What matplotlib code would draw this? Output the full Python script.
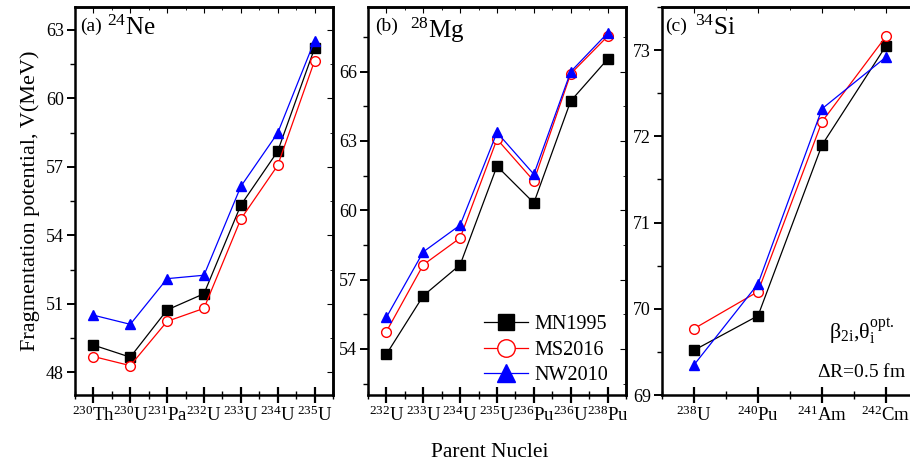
import matplotlib
matplotlib.use('Agg')
import matplotlib.pyplot as plt
from matplotlib.ticker import MultipleLocator

plt.rcParams['font.family'] = ['Liberation Serif', 'DejaVu Serif']
plt.rcParams['mathtext.fontset'] = 'custom'
plt.rcParams['mathtext.rm'] = 'Liberation Serif'
plt.rcParams['mathtext.it'] = 'Liberation Serif:italic'
plt.rcParams['mathtext.bf'] = 'Liberation Serif:bold'

# panel (a) 24Ne
ne_labels = [r'$^{230}$Th', r'$^{230}$U', r'$^{231}$Pa', r'$^{232}$U', r'$^{233}$U', r'$^{234}$U', r'$^{235}$U']
ne_mn1995 = [49.19, 48.66, 50.73, 51.44, 55.32, 57.68, 62.19]
ne_ms2016 = [48.69, 48.29, 50.23, 50.80, 54.71, 57.06, 61.64]
ne_nw2010 = [50.50, 50.10, 52.10, 52.25, 56.14, 58.48, 62.52]

# panel (b) 28Mg
mg_labels = [r'$^{232}$U', r'$^{233}$U', r'$^{234}$U', r'$^{235}$U', r'$^{236}$Pu', r'$^{236}$U', r'$^{238}$Pu']
mg_mn1995 = [53.77, 56.30, 57.64, 61.91, 60.32, 64.73, 66.54]
mg_ms2016 = [54.75, 57.64, 58.80, 63.08, 61.27, 65.91, 67.53]
mg_nw2010 = [55.37, 58.20, 59.36, 63.37, 61.56, 66.00, 67.67]

# panel (c) 34Si
si_labels = [r'$^{238}$U', r'$^{240}$Pu', r'$^{241}$Am', r'$^{242}$Cm']
si_mn1995 = [69.52, 69.92, 71.90, 73.05]
si_ms2016 = [69.77, 70.20, 72.17, 73.16]
si_nw2010 = [69.35, 70.29, 72.32, 72.92]

fig = plt.figure(figsize=(9.1, 4.67), dpi=100)
ax1 = fig.add_axes([0.0824, 0.154, 0.2835, 0.831])
ax2 = fig.add_axes([0.4044, 0.154, 0.2835, 0.831])
ax3 = fig.add_axes([0.7275, 0.154, 0.2813, 0.831])

panels = [
    (ax1, ne_labels, ne_mn1995, ne_ms2016, ne_nw2010, (47, 64), 3, 1.5, '(a)', r'$^{24}$Ne', 0.02, 0.124),
    (ax2, mg_labels, mg_mn1995, mg_ms2016, mg_nw2010, (52, 68.8), 3, 1.5, '(b)', r'$^{28}$Mg', 0.027, 0.163),
    (ax3, si_labels, si_mn1995, si_ms2016, si_nw2010, (69, 73.5), 1, 0.5, '(c)', r'$^{34}$Si', 0.012, 0.129),
]

for ax, labels, mn, ms, nw, ylim, major, minor, tag, nucl, xtag, xnucl in panels:
    x = list(range(len(labels)))
    ax.plot(x, mn, '-s', color='black', lw=0.9, ms=6.5, mfc='black', label='MN1995')
    ax.plot(x, ms, '-o', color='red', lw=0.9, ms=7, mfc='white', mec='red', label='MS2016')
    ax.plot(x, nw, '-^', color='blue', lw=0.9, ms=7.5, mfc='blue', mec='blue', label='NW2010')
    ax.set_xlim(-0.5, len(labels) - 0.5)
    ax.set_ylim(*ylim)
    ax.set_xticks(x)
    ax.set_xticklabels(labels, fontsize=13.5)
    ax.xaxis.set_minor_locator(MultipleLocator(0.5))
    ax.yaxis.set_major_locator(MultipleLocator(major))
    ax.yaxis.set_minor_locator(MultipleLocator(minor))
    ax.tick_params(axis='x', which='major', direction='inout', length=11, width=1.6, pad=2)
    ax.tick_params(axis='x', which='minor', direction='inout', length=6, width=1.0)
    ax.tick_params(axis='y', which='major', direction='out', length=6, width=1.4, labelsize=13, pad=2)
    ax.tick_params(axis='y', which='minor', direction='out', length=3.5, width=1.0)
    for sp in ax.spines.values():
        sp.set_linewidth(1.8)
    top = ax.secondary_xaxis('top')
    top.set_xticks(x)
    top.xaxis.set_minor_locator(MultipleLocator(0.5))
    top.tick_params(which='major', direction='in', length=4, labeltop=False)
    top.tick_params(which='minor', direction='in', length=2.5)
    top.spines['top'].set_linewidth(1.8)
    right = ax.secondary_yaxis('right')
    right.yaxis.set_major_locator(MultipleLocator(major))
    right.yaxis.set_minor_locator(MultipleLocator(minor))
    right.tick_params(which='major', direction='in', length=4, labelright=False)
    right.tick_params(which='minor', direction='in', length=2.5)
    right.spines['right'].set_linewidth(1.8)
    ax.text(xtag, 0.972, tag, transform=ax.transAxes, ha='left', va='top', fontsize=14)
    ax.text(xnucl, 0.978, nucl, transform=ax.transAxes, ha='left', va='top', fontsize=18)

ax1.set_ylabel('Fragmentation potential, V(MeV)', fontsize=16, labelpad=4)
fig.text(0.538, 0.03, 'Parent Nuclei', ha='center', va='center', fontsize=15.5)

ax2.legend(loc='lower right', bbox_to_anchor=(1.0, -0.02), frameon=False, fontsize=14.5,
           markerscale=1.8, handlelength=2.2, handletextpad=0.3, labelspacing=0.3)

ax3.text(0.78, 0.125, r'$\mathrm{\beta_{2i}}$,$\mathrm{\theta_i^{opt.}}$', transform=ax3.transAxes,
         ha='center', va='bottom', fontsize=16)
ax3.text(0.955, 0.035, r'$\Delta$R=0.5 fm', transform=ax3.transAxes, ha='right', va='bottom', fontsize=14)

plt.savefig('out.png', dpi=100)
